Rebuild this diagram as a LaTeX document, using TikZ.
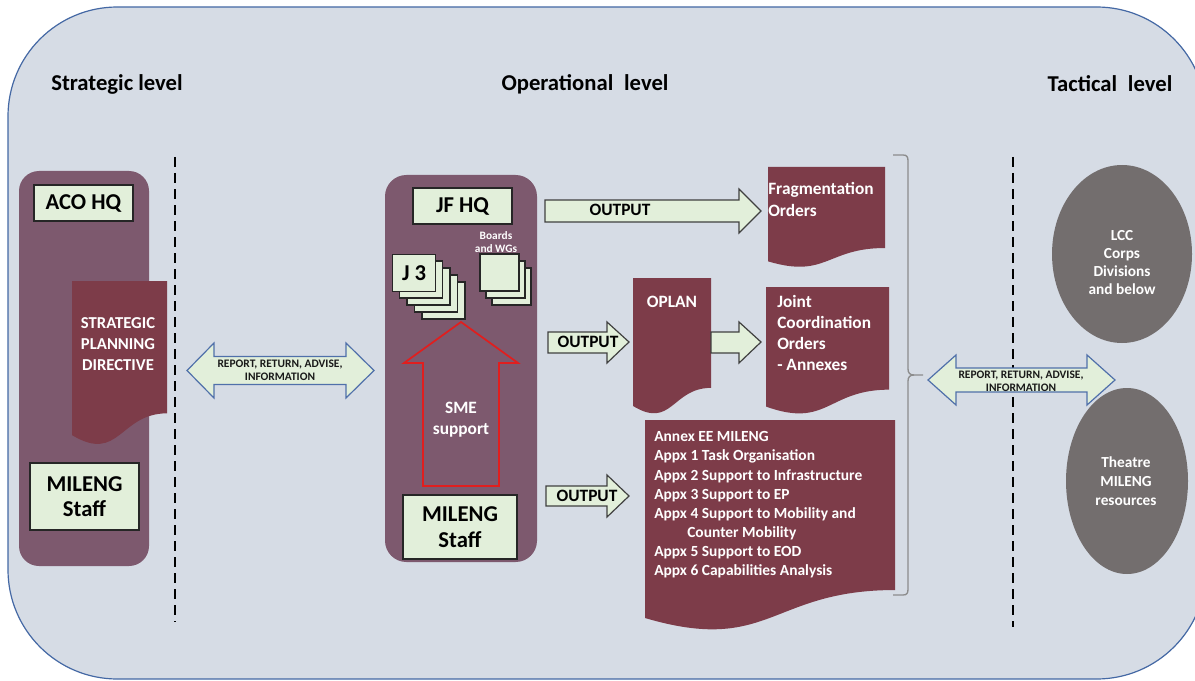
\documentclass[tikz,border=0pt]{standalone}
\usepackage{fontspec}
\setmainfont{Carlito}
\usetikzlibrary{shapes.geometric}
\definecolor{bgc}{RGB}{214,220,229}
\definecolor{bgline}{RGB}{68,104,164}
\definecolor{contc}{RGB}{125,89,110}
\definecolor{docc}{RGB}{125,60,73}
\definecolor{lgreen}{RGB}{226,239,218}
\definecolor{ellc}{RGB}{115,110,110}
\definecolor{arrline}{RGB}{80,112,170}
\definecolor{redl}{RGB}{225,30,30}
\definecolor{bracec}{RGB}{140,140,140}
\newcommand\myfs[2]{\fontsize{#1}{#2}\selectfont\bfseries}
\newcommand\mydoc[5]{% name x1 y0 x2 h
  \fill[docc] (#2,#3) -- (#4,#3) -- (#4,{#3+0.802*#5})
    .. controls ({(#2+#4)/2},{#3+0.802*#5}) and ({(#2+#4)/2},{#3+1.1075*#5}) .. (#2,{#3+0.934*#5}) -- cycle;
  \coordinate (#1) at (#2,{#3+0.5*#5});}
\begin{document}
\begin{tikzpicture}[x=0.75pt,y=-0.75pt,
  hdr/.style={font=\myfs{17}{20}, text=black, inner sep=0},
  cont/.style={fill=contc, rounded corners=15pt, inner sep=0},
  gbox/.style={fill=lgreen, draw=black!85, line width=0.9pt, inner sep=0, align=center, font=\myfs{17}{19}},
  wtext/.style={text=white, inner sep=0},
  blockarr/.style={fill=lgreen, draw=black!75, line width=0.9pt},
  dblarr/.style={fill=lgreen, draw=arrline, line width=0.9pt},
  dashline/.style={line width=1.9pt, dash pattern=on 7.5pt off 4.5pt},
  sq/.style={fill=lgreen, draw=black!85, line width=0.9pt},
  ell/.style={fill=ellc, ellipse, inner sep=0, text=white, align=center, font=\myfs{11.5}{13.5}},
  artext/.style={inner sep=0, align=center, font=\myfs{8.6}{9.8}, text=black!90}
]
\useasboundingbox (0,0) rectangle (1195,681);
% background
\begin{scope}
\clip (0,0) rectangle (1195,681);
\draw[fill=bgc, draw=bgline, line width=0.9pt, rounded corners=82pt] (8,7) rectangle (1206,679);
\end{scope}
% headers
\node[hdr] (hstrat) at (117,84) {Strategic level};
\node[hdr] (hoper) at (585,84) {Operational\hspace{0.25em} level};
\node[hdr] (htact) at (1110,84) {Tactical\hspace{0.25em} level};
% dashed lines
\coordinate (d1t) at (175,157); \coordinate (d1b) at (175,622);
\coordinate (d2t) at (1013,157); \coordinate (d2b) at (1013,627);
\draw[dashline] (d1t) -- (d1b);
\draw[dashline] (d2t) -- (d2b);
% ACO HQ container
\node[cont, minimum width=97.5pt, minimum height=296.25pt] (acoC) at (84,368.5) {};
\node[gbox, minimum width=74.25pt, minimum height=27pt] (acoHQ) at (83.5,203) {ACO HQ};
\mydoc{spd}{72}{281}{167}{165}
\node[wtext, align=center, font=\myfs{12.5}{15.75}] (spdt) at (118,344) {STRATEGIC\\PLANNING\\DIRECTIVE};
\node[gbox, minimum width=81.75pt, minimum height=50.25pt] (milL) at (84.5,496.5) {MILENG\\Staff};
% JF HQ container
\node[cont, rounded corners=16pt, minimum width=114pt, minimum height=290.25pt] (jfC) at (461,368.5) {};
\node[gbox, minimum width=74.25pt, minimum height=27pt] (jfHQ) at (462.5,206) {JF HQ};
% J3 stack
\foreach \i in {4,3,2,1} {
  \draw[sq] ({392+7.5*\i},{254+7*\i}) rectangle ({435+7.5*\i},{291+7*\i});
}
\node[sq, minimum width=32.25pt, minimum height=27.75pt, inner sep=0, font=\myfs{17}{19}, anchor=north west] (j3) at (392,254) {J 3};
% Boards stack
\foreach \i in {2,1,0} {
  \draw[sq] ({480+6*\i},{254+7*\i}) rectangle ({519+6*\i},{291+7*\i});
}
\node[wtext, align=center, font=\myfs{8.5}{9.75}] (boards) at (496,242.5) {Boards\\and WGs};
% red SME arrow
\draw[redl, line width=1.3pt] (423,486) -- (423,363) -- (404,363) -- (461,322) -- (518,363) -- (499,363) -- (499,486) -- cycle;
\node[wtext, align=center, font=\myfs{13}{15.75}] (sme) at (461,419.5) {SME\\support};
\node[gbox, minimum width=85.5pt, minimum height=48pt] (milM) at (460,527) {MILENG\\Staff};
% documents
\mydoc{frag}{768}{167}{885}{101}
\node[wtext, align=left, anchor=west, font=\myfs{13}{16.5}] (fragt) at (768,199) {Fragmentation\\Orders};
\mydoc{oplan}{633}{278}{711}{137}
\node[wtext, font=\myfs{13}{15}] (oplant) at (672,302) {OPLAN};
\mydoc{jco}{766}{287}{889}{128}
\node[wtext, align=left, anchor=west, font=\myfs{13}{15.75}] (jcot) at (777,333) {Joint\\Coordination\\Orders\\- Annexes};
\mydoc{annex}{645}{420}{895}{212}
\node[wtext, align=left, anchor=west, font=\myfs{11.6}{14.36}] (annext) at (654,505) {Annex EE MILENG\\Appx 1 Task Organisation\\Appx 2 Support to Infrastructure\\Appx 3 Support to EP\\Appx 4 Support to Mobility and\\\hspace*{24.75pt}Counter Mobility\\Appx 5 Support to EOD\\Appx 6 Capabilities Analysis};
% OUTPUT arrows
\draw[blockarr] (545,200) -- (739,200) -- (739,189) -- (761,211) -- (739,233) -- (739,222) -- (545,222) -- cycle;
\node[inner sep=0, font=\myfs{13}{15}] (out1) at (620,210) {OUTPUT};
\draw[blockarr] (548,332) -- (607,332) -- (607,322) -- (629,342) -- (607,363) -- (607,353) -- (548,353) -- cycle;
\node[inner sep=0, font=\myfs{13}{15}] (out2) at (588,342) {OUTPUT};
\draw[blockarr] (711,332) -- (739,332) -- (739,322) -- (761,342) -- (739,363) -- (739,353) -- (711,353) -- cycle;
\draw[blockarr] (546,486) -- (607,486) -- (607,475) -- (629,496) -- (607,517) -- (607,506) -- (546,506) -- cycle;
\node[inner sep=0, font=\myfs{13}{15}] (out3) at (587,496) {OUTPUT};
% double arrows
\draw[dblarr] (187,370.5) -- (214,343) -- (214,356.5) -- (346,356.5) -- (346,343) -- (374,370.5) -- (346,398) -- (346,384.5) -- (214,384.5) -- (214,398) -- cycle;
\node[artext] (rep1) at (280,370.5) {REPORT, RETURN, ADVISE,\\INFORMATION};
\draw[dblarr] (928,380) -- (956,355) -- (956,368) -- (1087,368) -- (1087,355) -- (1115,380) -- (1087,405) -- (1087,392) -- (956,392) -- (956,405) -- cycle;
\node[artext] (rep2) at (1021,381) {REPORT, RETURN, ADVISE,\\INFORMATION};
% brace
\draw[bracec, line width=1pt] (893,155) -- (903,155) .. controls (907,155) and (908,157) .. (908,161) -- (908,369) .. controls (908,373) and (910,375) .. (914,375) -- (923,375);
\draw[bracec, line width=1pt] (914,375) .. controls (910,375) and (908,377) .. (908,381) -- (908,589) .. controls (908,593) and (907,595) .. (903,595) -- (893,595);
% ellipses
\node[ell, minimum width=105pt, minimum height=133.5pt] (lcc) at (1122,254) {};
\node[inner sep=0, text=white, align=center, font=\myfs{11.5}{13.5}] (lcct) at (1122,262.5) {LCC\\Corps\\Divisions\\and below};
\node[ell, minimum width=91.5pt, minimum height=139.5pt] (thea) at (1127,481) {};
\node[inner sep=0, text=white, align=center, font=\myfs{11.5}{14.25}] (theat) at (1126,481) {Theatre\\MILENG\\resources};
\end{tikzpicture}
\end{document}
